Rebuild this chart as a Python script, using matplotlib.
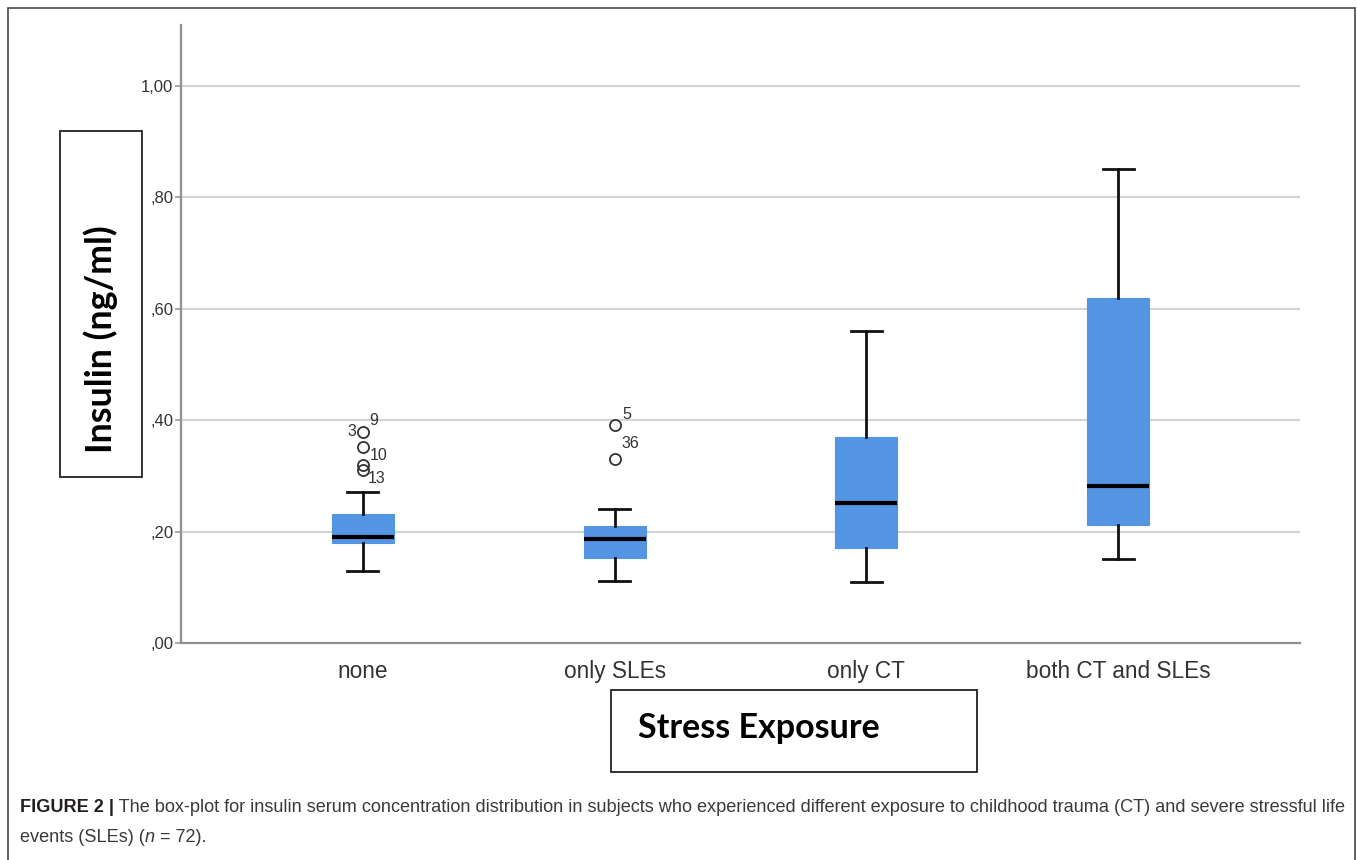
import matplotlib
matplotlib.use("Agg")
import matplotlib.pyplot as plt
from matplotlib.patches import Rectangle

# ---------------- data ----------------
categories = ["none", "only SLEs", "only CT", "both CT and SLEs"]
whisker_low = [0.130, 0.111, 0.110, 0.151]
q1 = [0.180, 0.153, 0.171, 0.211]
median = [0.190, 0.187, 0.251, 0.281]
q3 = [0.231, 0.210, 0.370, 0.619]
whisker_high = [0.271, 0.241, 0.561, 0.851]
outliers = [[0.379, 0.352, 0.320, 0.311], [0.391, 0.330], [], []]
outlier_ids = [["9", "10", "", "13"], ["5", "36"], [], []]
extra_labels = [("3", 0, 0.379)]  # (id, group index, value) label drawn on the left
yticks = [0.0, 0.2, 0.4, 0.6, 0.8, 1.0]
ytick_labels = [",00", ",20", ",40", ",60", ",80", "1,00"]
ylabel = "Insulin (ng/ml)"
xlabel = "Stress Exposure"
caption_bold = "FIGURE 2 |"
caption_line1 = (" The box-plot for insulin serum concentration distribution in subjects who "
                 "experienced different exposure to childhood trauma (CT) and severe stressful life")
caption_line2 = ["events (SLEs) (", "n", " = 72)."]

# ---------------- figure ----------------
W, H = 1357, 860
fig = plt.figure(figsize=(W / 100, H / 100), dpi=100)
fig.patch.set_facecolor("white")

def fx(x):
    return x / W

def fy(y):
    return 1 - y / H

ax_left, ax_right, ax_top, ax_bottom = 181, 1300, 25, 643
ax = fig.add_axes([fx(ax_left), fy(ax_bottom), (ax_right - ax_left) / W, (ax_bottom - ax_top) / H])

box_color = "#5394E3"
stats = []
for i in range(len(categories)):
    stats.append(dict(med=median[i], q1=q1[i], q3=q3[i], whislo=whisker_low[i],
                      whishi=whisker_high[i], fliers=outliers[i], label=categories[i]))

positions = list(range(1, len(categories) + 1))
ax.bxp(stats, positions=positions, widths=0.246, patch_artist=True, showfliers=True,
       boxprops=dict(facecolor=box_color, edgecolor=box_color, linewidth=0.8),
       medianprops=dict(color="black", linewidth=3),
       whiskerprops=dict(color="#111111", linewidth=2),
       capprops=dict(color="#111111", linewidth=2),
       capwidths=0.123,
       flierprops=dict(marker="o", markersize=8, markerfacecolor="none",
                       markeredgecolor="#333333", markeredgewidth=1.3, linestyle="none"),
       zorder=3)

# outlier labels
offsets = {(0, 0): (8, 8.5), (0, 1): (11, -6), (0, 3): (10, -6), (1, 0): (9, 8), (1, 1): (11, 11)}
for gi, (vals, ids) in enumerate(zip(outliers, outlier_ids)):
    for oi, (v, lab) in enumerate(zip(vals, ids)):
        if not lab:
            continue
        dx, dy = offsets.get((gi, oi), (8, 0))
        ax.annotate(lab, (positions[gi], v), xytext=(dx, dy), textcoords="offset points",
                    ha="center", va="center", fontsize=11.5, color="#333333",
                    family="Liberation Sans")
for lab, gi, v in extra_labels:
    ax.annotate(lab, (positions[gi], v), xytext=(-8, 0), textcoords="offset points",
                ha="center", va="center", fontsize=11.5, color="#333333",
                family="Liberation Sans")

ax.set_xlim(0.277, 4.723)
ax.set_ylim(0, (ax_bottom - ax_top) / ((ax_bottom - 86) / 1.0))
ax.set_yticks(yticks)
ax.set_yticklabels(ytick_labels, fontsize=12, color="#333333", family="Liberation Sans")
ax.set_xticks(positions)
ax.set_xticklabels(categories, fontsize=16.3, color="#333333", family="Liberation Sans")
ax.tick_params(axis="x", length=0, pad=12)
ax.tick_params(axis="y", length=4, width=1.2, color="#999999", pad=1.5)
for yv in yticks[1:]:
    ax.axhline(yv, color="#d4d4d4", linewidth=1.6, zorder=1)
for s in ["top", "right"]:
    ax.spines[s].set_visible(False)
for s in ["left", "bottom"]:
    ax.spines[s].set_color("#8f8f8f")
    ax.spines[s].set_linewidth(1.6)

# label boxes
fig.patches.append(Rectangle((fx(60), fy(477)), (142 - 60) / W, (477 - 131) / H,
                             transform=fig.transFigure, fill=False, edgecolor="#222222",
                             linewidth=1.3))
fig.text(fx(101), fy(339), ylabel, rotation=90, ha="center", va="center",
         fontsize=25.8, fontweight="bold", family="Lato", color="black")
fig.patches.append(Rectangle((fx(611), fy(772)), (977 - 611) / W, (772 - 690) / H,
                             transform=fig.transFigure, fill=False, edgecolor="#222222",
                             linewidth=1.3))
fig.text(fx(638), fy(728), xlabel, ha="left", va="center",
         fontsize=24.5, fontweight="bold", family="Lato", color="black")

# outer frame
fig.patches.append(Rectangle((fx(8), fy(866)), (1355 - 8) / W, (866 - 8) / H,
                             transform=fig.transFigure, fill=False, edgecolor="#555555",
                             linewidth=1.3))

# caption (font size fitted to the reference line width)
fig.canvas.draw()
r = fig.canvas.get_renderer()
cap_family = "Liberation Sans"
cap_color = "#231f20"
target_w = 1343 - 20
cap_fs = 12.5
t_b = fig.text(fx(20), fy(808), caption_bold, ha="left", va="center", fontsize=cap_fs,
               fontweight="bold", family=cap_family, color=cap_color)
t_r = fig.text(fx(20), fy(808), caption_line1, ha="left", va="center", fontsize=cap_fs,
               family=cap_family, color="#3a3a3a")
for _ in range(3):
    wb = t_b.get_window_extent(r).width
    wr = t_r.get_window_extent(r).width
    cap_fs = cap_fs * target_w / (wb + wr)
    t_b.set_fontsize(cap_fs)
    t_r.set_fontsize(cap_fs)
bb = t_b.get_window_extent(r)
t_r.set_x(bb.x1 / W)
x = 20
for k, piece in enumerate(caption_line2):
    t = fig.text(fx(x), fy(837), piece, ha="left", va="center", fontsize=cap_fs,
                 family=cap_family, color="#3a3a3a", style="italic" if k == 1 else "normal")
    x = t.get_window_extent(r).x1

fig.savefig("out.png", dpi=100)
